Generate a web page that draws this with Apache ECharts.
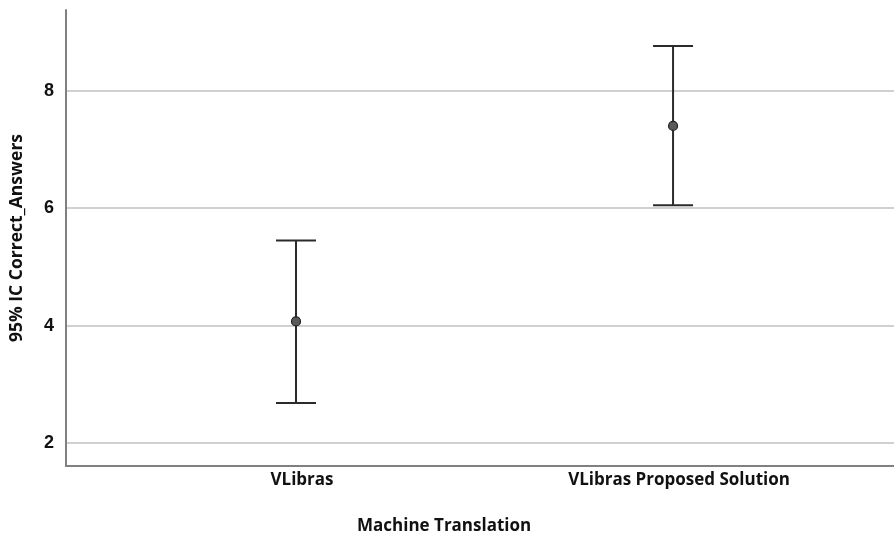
<!DOCTYPE html>
<html><head><meta charset="utf-8">
<script src="https://cdn.jsdelivr.net/npm/echarts@6/dist/echarts.min.js"></script>
<style>html,body{margin:0;padding:0;background:#fff}#c{width:894px;height:536px}</style>
</head><body><div id="c"></div>
<script>
var categories = ['VLibras', 'VLibras Proposed Solution'];
var means = [4.07, 7.40];
var lowers = [2.68, 6.05];
var uppers = [5.45, 8.76];
var yTicks = [2, 4, 6, 8];
var xTitle = 'Machine Translation';
var yTitle = '95% IC Correct_Answers';

var chart = echarts.init(document.getElementById('c'));
var barData = categories.map(function (c, i) { return [i, lowers[i], uppers[i]]; });
var meanData = categories.map(function (c, i) { return [i, means[i]]; });

chart.setOption({
  animation: false,
  grid: { left: 66, right: 0, top: 10, bottom: 70, outerBoundsMode: 'none', containLabel: false },
  graphic: [{
    type: 'text', left: 357, top: 518,
    style: { text: xTitle, fontFamily: 'Open Sans', fontWeight: 'bold', fontSize: 17, fill: '#111' }
  }],
  xAxis: {
    type: 'value', min: -0.61, max: 1.586,
    axisLine: { show: true, onZero: false, lineStyle: { color: '#808080', width: 2 } },
    axisTick: { show: false, customValues: [0, 1] },
    splitLine: { show: false },
    axisLabel: { customValues: [0, 1], margin: 6, padding: [0, 0, 0, 12], fontFamily: 'Open Sans', fontWeight: 'bold', fontSize: 17, color: '#111',
      formatter: function (v) { return categories[Math.round(v)]; } }
  },
  yAxis: {
    type: 'value', min: 1.608, max: 9.375,
    name: yTitle, nameLocation: 'middle', nameGap: 40,
    nameTextStyle: { fontFamily: 'Open Sans', fontWeight: 'bold', fontSize: 17.5, color: '#111' },
    axisLine: { show: true, onZero: false, lineStyle: { color: '#808080', width: 2 } },
    axisTick: { show: false, customValues: yTicks },
    axisLabel: { customValues: yTicks, margin: 12, fontFamily: 'Liberation Sans', fontWeight: 'bold', fontSize: 18, color: '#111' },
    splitLine: { show: true, lineStyle: { color: '#c0c0c0', width: 1.5 } }
  },
  series: [
    {
      type: 'custom',
      data: barData,
      renderItem: function (params, api) {
        var x = api.value(0);
        var lo = api.coord([x, api.value(1)]);
        var hi = api.coord([x, api.value(2)]);
        var hw = 20;
        var st = { stroke: '#2b2b2b', lineWidth: 2 };
        return { type: 'group', children: [
          { type: 'line', shape: { x1: lo[0], y1: lo[1], x2: hi[0], y2: hi[1] }, style: st },
          { type: 'line', shape: { x1: hi[0] - hw, y1: hi[1], x2: hi[0] + hw, y2: hi[1] }, style: st },
          { type: 'line', shape: { x1: lo[0] - hw, y1: lo[1], x2: lo[0] + hw, y2: lo[1] }, style: st }
        ] };
      },
      z: 2
    },
    {
      type: 'scatter',
      data: meanData,
      symbol: 'circle', symbolSize: 9,
      itemStyle: { color: '#5a5a5a', borderColor: '#222', borderWidth: 1.2, opacity: 1 },
      z: 3
    }
  ]
});
</script></body></html>
